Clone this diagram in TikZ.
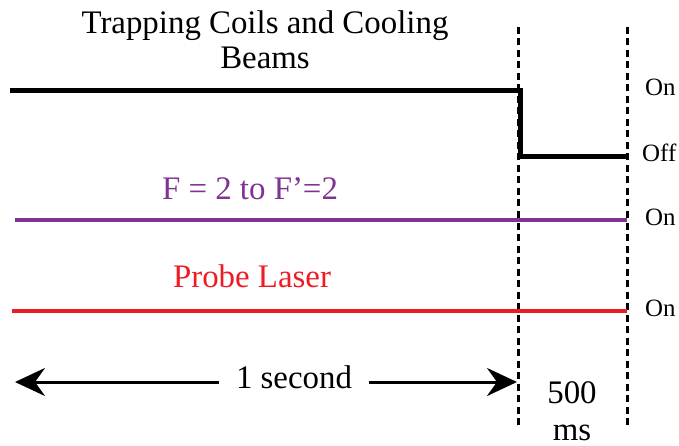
\documentclass[tikz,border=0pt]{standalone}
\usepackage{fontspec}
\setmainfont{Liberation Serif}
\usetikzlibrary{arrows.meta,positioning}
\definecolor{pumpviolet}{RGB}{127,52,148}
\definecolor{probered}{RGB}{237,28,36}

\begin{document}
\begin{tikzpicture}[
  x=1bp, y=-1bp,
  bigtext/.style={font=\fontsize{33}{36}\selectfont, inner sep=0pt},
  statetext/.style={font=\fontsize{25}{27}\selectfont, inner sep=0pt, anchor=base west},
  marker/.style={line width=3bp, dash pattern=on 7bp off 4.5bp},
  trace/.style={line width=3.5bp}
]
\useasboundingbox (0,0) rectangle (679,446);

% time markers
\coordinate (m1top) at (518,27);
\coordinate (m1bot) at (518,425);
\coordinate (m2top) at (627,27);
\coordinate (m2bot) at (627,425);
\draw[marker] (m1top) -- (m1bot);
\draw[marker] (m2top) -- (m2bot);

% trapping coils
\node[bigtext, align=center, anchor=north] (trap) at (265,10) {Trapping Coils and Cooling\\Beams};
\coordinate (c0) at (10,91);
\coordinate (c1) at (520,91);
\coordinate (c2) at (520,157);
\coordinate (c3) at (627,157);
\draw[trace, line width=5bp] (c0) -- (c1) -- (c2) -- (c3);

% repump
\node[bigtext, text=pumpviolet, anchor=base] (pump) at (250,200) {F = 2 to F’=2};
\coordinate (p0) at (15,220);
\coordinate (p1) at (627,220);
\draw[trace, pumpviolet] (p0) -- (p1);

% probe
\node[bigtext, text=probered, anchor=base] (probe) at (252,288) {Probe Laser};
\coordinate (r0) at (12,311);
\coordinate (r1) at (627,311);
\draw[trace, probered] (r0) -- (r1);

% states
\node[statetext] (on1) at (645,96) {On};
\node[statetext] (off1) at (642,162) {Off};
\node[statetext] (on2) at (645,226) {On};
\node[statetext] (on3) at (645,317) {On};

% durations
\node[bigtext, anchor=base, inner xsep=17bp] (onesec) at (294,388) {1 second};
\coordinate (sl) at (15,382);
\coordinate (sr) at (517,382);
\draw[line width=3bp, -{Stealth[length=30bp, width=28bp, inset=10bp]}] (sl -| onesec.west) -- (sl);
\draw[line width=3bp, -{Stealth[length=30bp, width=28bp, inset=10bp]}] (sr -| onesec.east) -- (sr);
\node[bigtext, anchor=base] (five) at (572,403) {500};
\node[bigtext, anchor=base] (ms) at (572,440) {ms};

\end{tikzpicture}
\end{document}
